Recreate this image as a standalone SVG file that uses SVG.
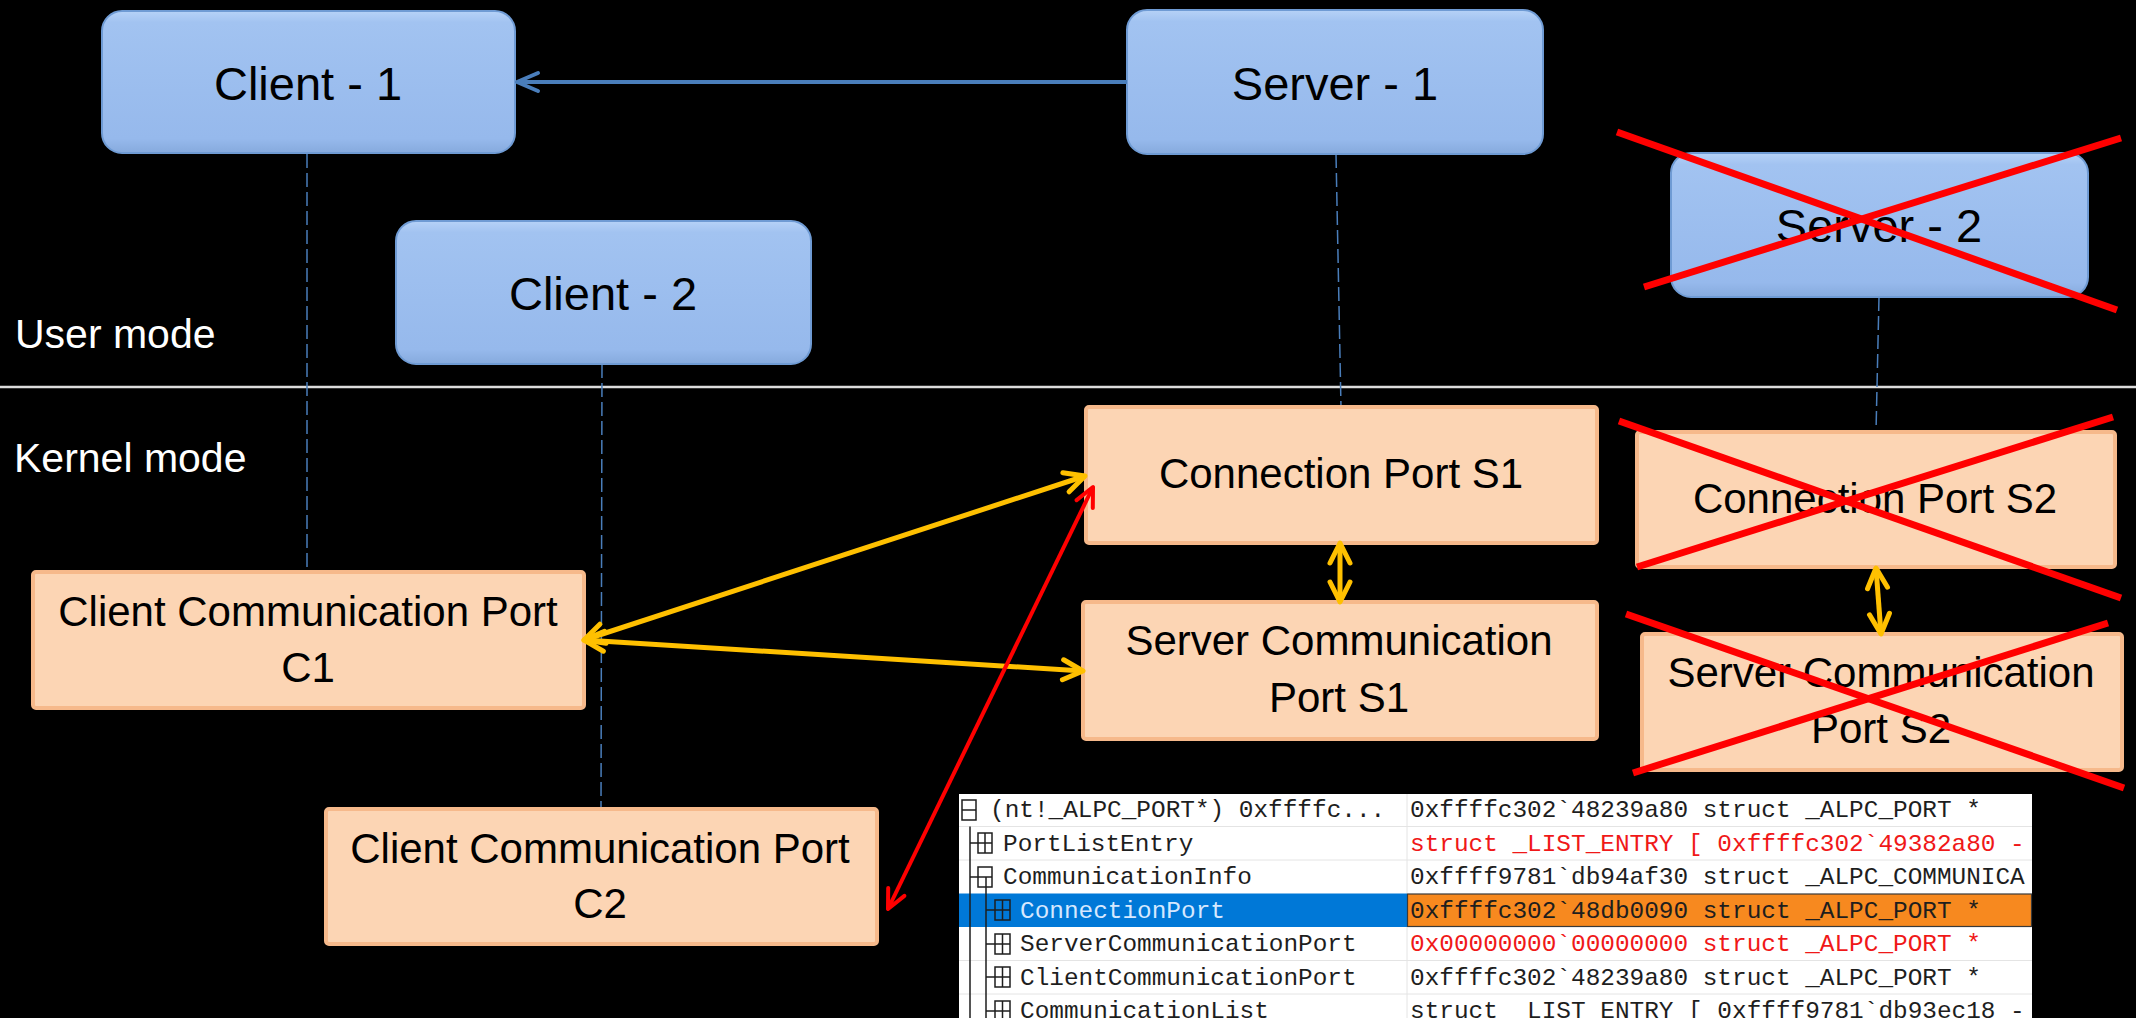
<svg xmlns="http://www.w3.org/2000/svg" width="2136" height="1018" viewBox="0 0 2136 1018">
  <defs>
    <style>
      .bg { fill: #000000; }
      .ubox { fill: url(#blueFill); stroke: #6f9bd4; stroke-width: 2; }
      .kbox { fill: #fcd5b4; stroke: #f6b98b; stroke-width: 4; }
      .lbl { font-family: "Liberation Sans", Arial, sans-serif; fill: #000000; text-anchor: middle; }
      .big { font-size: 47px; }
      .mid { font-size: 42px; }
      .mode { font-family: "Liberation Sans", Arial, sans-serif; font-size: 41px; fill: #ffffff; }
      .life { stroke: #4a7ebb; stroke-width: 1.5; stroke-dasharray: 14 5; fill: none; }
      .cross { stroke: #ff0000; stroke-width: 7; stroke-linecap: butt; }
      .yel { stroke: #ffc000; stroke-width: 5; fill: none; marker-start: url(#headY); marker-end: url(#headY); }
      .red { stroke: #ff0000; stroke-width: 4; fill: none; marker-start: url(#headR); marker-end: url(#headR); }
      .blu { stroke: #4a7ebb; stroke-width: 4; fill: none; marker-end: url(#headB); }
      .mono { font-family: "Liberation Mono", "Courier New", monospace; font-size: 24.4px; }
      .blk { fill: #1e1e1e; }
      .rd { fill: #f01818; }
      .sel { fill: #d6e8ff; }
      .grid { stroke: #e4e4e4; stroke-width: 1; }
      .tree { stroke: #1e1e1e; stroke-width: 1.5; fill: none; }
      .icon { stroke: #1e1e1e; stroke-width: 1.5; fill: none; }
    </style>
    <linearGradient id="blueFill" x1="0" y1="0" x2="0" y2="1">
      <stop offset="0" stop-color="#b6d2f7"/>
      <stop offset="0.08" stop-color="#a2c3f1"/>
      <stop offset="0.9" stop-color="#96b9ec"/>
      <stop offset="1" stop-color="#86aadd"/>
    </linearGradient>
    <marker id="headY" markerUnits="userSpaceOnUse" orient="auto-start-reverse" refX="0" refY="0" markerWidth="30" markerHeight="30" overflow="visible">
      <path d="M -20 -10 L 0 0 L -20 10" fill="none" stroke="#ffc000" stroke-width="5" stroke-linecap="round" stroke-linejoin="round"/>
    </marker>
    <marker id="headR" markerUnits="userSpaceOnUse" orient="auto-start-reverse" refX="0" refY="0" markerWidth="30" markerHeight="30" overflow="visible">
      <path d="M -19 -9 L 0 0 L -19 9" fill="none" stroke="#ff0000" stroke-width="4" stroke-linecap="round" stroke-linejoin="round"/>
    </marker>
    <marker id="headB" markerUnits="userSpaceOnUse" orient="auto" refX="0" refY="0" markerWidth="30" markerHeight="30" overflow="visible">
      <path d="M -21 -9 L 0 0 L -21 9" fill="none" stroke="#4a7ebb" stroke-width="4" stroke-linecap="round" stroke-linejoin="round"/>
    </marker>
    <clipPath id="valClip">
      <rect x="1407" y="790" width="625" height="240"/>
    </clipPath>
    <clipPath id="nameClip">
      <rect x="959" y="790" width="448" height="240"/>
    </clipPath>
  </defs>

  <rect class="bg" x="0" y="0" width="2136" height="1018"/>

  <!-- user / kernel boundary -->
  <line x1="0" y1="387" x2="2136" y2="387" stroke="#dcdcdc" stroke-width="2.5"/>
  <text class="mode" x="15" y="348">User mode</text>
  <text class="mode" x="14" y="472">Kernel mode</text>

  <!-- lifelines from processes to their kernel ports -->
  <g id="lifelines">
    <line class="life" x1="307" y1="154" x2="307" y2="572"/>
    <line class="life" x1="602" y1="364" x2="601" y2="809"/>
    <line class="life" x1="1336" y1="154" x2="1341" y2="407"/>
    <line class="life" x1="1879" y1="297" x2="1876" y2="432"/>
  </g>

  <!-- user-mode processes -->
  <g id="client-1">
    <rect class="ubox" x="102" y="11" width="413" height="142" rx="20"/>
    <text class="lbl big" x="308" y="100">Client - 1</text>
  </g>
  <g id="client-2">
    <rect class="ubox" x="396" y="221" width="415" height="143" rx="20"/>
    <text class="lbl big" x="603" y="310">Client - 2</text>
  </g>
  <g id="server-1">
    <rect class="ubox" x="1127" y="10" width="416" height="144" rx="20"/>
    <text class="lbl big" x="1335" y="100">Server - 1</text>
  </g>
  <g id="server-2">
    <rect class="ubox" x="1671" y="153" width="417" height="144" rx="20"/>
    <text class="lbl big" x="1879" y="242">Server - 2</text>
  </g>

  <!-- kernel-mode ALPC ports -->
  <g id="connection-port-s1">
    <rect class="kbox" x="1086" y="407" width="511" height="136" rx="3"/>
    <text class="lbl mid" x="1341" y="488">Connection Port S1</text>
  </g>
  <g id="server-comm-port-s1">
    <rect class="kbox" x="1083" y="602" width="514" height="137" rx="3"/>
    <text class="lbl mid" x="1339" y="655">Server Communication</text>
    <text class="lbl mid" x="1339" y="712">Port S1</text>
  </g>
  <g id="connection-port-s2">
    <rect class="kbox" x="1637" y="432" width="478" height="135" rx="3"/>
    <text class="lbl mid" x="1875" y="513">Connection Port S2</text>
  </g>
  <g id="server-comm-port-s2">
    <rect class="kbox" x="1642" y="634" width="480" height="136" rx="3"/>
    <text class="lbl mid" x="1881" y="687">Server Communication</text>
    <text class="lbl mid" x="1881" y="743">Port S2</text>
  </g>
  <g id="client-comm-port-c1">
    <rect class="kbox" x="33" y="572" width="551" height="136" rx="3"/>
    <text class="lbl mid" x="308" y="626">Client Communication Port</text>
    <text class="lbl mid" x="308" y="682">C1</text>
  </g>
  <g id="client-comm-port-c2">
    <rect class="kbox" x="326" y="809" width="551" height="135" rx="3"/>
    <text class="lbl mid" x="600" y="863">Client Communication Port</text>
    <text class="lbl mid" x="600" y="918">C2</text>
  </g>

  <!-- connectors -->
  <g id="connectors">
    <line class="blu" x1="1127" y1="82" x2="517" y2="82"/>
    <line class="yel" x1="584" y1="640" x2="1085" y2="476"/>
    <line class="yel" x1="584" y1="640" x2="1083" y2="671"/>
    <line class="yel" x1="1340" y1="543" x2="1340" y2="602"/>
    <line class="yel" x1="1876" y1="568" x2="1881" y2="634"/>
    <line class="red" x1="888" y1="909" x2="1093" y2="487"/>
  </g>

  <!-- removed server: crossed out -->
  <g id="strike-marks">
    <line class="cross" x1="1617" y1="132" x2="2117" y2="310"/>
    <line class="cross" x1="2121" y1="138" x2="1644" y2="287"/>
    <line class="cross" x1="1619" y1="421" x2="2121" y2="598"/>
    <line class="cross" x1="2113" y1="417" x2="1637" y2="567"/>
    <line class="cross" x1="1626" y1="614" x2="2124" y2="788"/>
    <line class="cross" x1="2108" y1="623" x2="1633" y2="773"/>
  </g>

  <!-- debugger watch window: _ALPC_PORT dump -->
  <g id="alpc-port-dump">
    <rect x="959" y="794" width="1073" height="230" fill="#ffffff"/>
    <!-- selected row -->
    <rect x="959" y="893.5" width="448" height="33.5" fill="#0078d7"/>
    <rect x="1407.5" y="894" width="624" height="32.5" fill="#f7891f" stroke="#3a3a3a" stroke-width="1.2"/>
    <!-- grid -->
    <line class="grid" x1="1407" y1="794" x2="1407" y2="893"/>
    <line class="grid" x1="1407" y1="927" x2="1407" y2="1018"/>
    <line class="grid" x1="959" y1="826.5" x2="2032" y2="826.5"/>
    <line class="grid" x1="959" y1="860" x2="2032" y2="860"/>
    <line class="grid" x1="959" y1="960.5" x2="2032" y2="960.5"/>
    <line class="grid" x1="959" y1="994" x2="2032" y2="994"/>

    <!-- tree connectors -->
    <path class="tree" d="M970 826.5 V 1018 M970 843 H 978 M970 877 H 978"/>
    <path class="tree" d="M986 877 V 1018 M986 910 H 995 M986 944 H 995 M986 977 H 995 M986 1011 H 995"/>

    <!-- expand / collapse boxes -->
    <g class="icon">
      <rect x="962" y="800" width="14" height="20"/><path d="M962 810 H 976"/>
      <rect x="978" y="833" width="14" height="20"/><path d="M978 843 H 992 M985 833 V 853"/>
      <rect x="978" y="867" width="14" height="20"/><path d="M978 877 H 992"/>
      <rect x="995" y="900" width="15" height="20"/><path d="M995 910 H 1010 M1002.5 900 V 920"/>
      <rect x="995" y="934" width="15" height="20"/><path d="M995 944 H 1010 M1002.5 934 V 954"/>
      <rect x="995" y="967" width="15" height="20"/><path d="M995 977 H 1010 M1002.5 967 V 987"/>
      <rect x="995" y="1001" width="15" height="20"/><path d="M995 1011 H 1010 M1002.5 1001 V 1021"/>
    </g>

    <g class="mono" clip-path="url(#nameClip)">
      <text class="blk" x="990" y="817">(nt!_ALPC_PORT*) 0xffffc...</text>
      <text class="blk" x="1003" y="850.5">PortListEntry</text>
      <text class="blk" x="1003" y="884">CommunicationInfo</text>
      <text class="sel" x="1020" y="917.5">ConnectionPort</text>
      <text class="blk" x="1020" y="951">ServerCommunicationPort</text>
      <text class="blk" x="1020" y="984.5">ClientCommunicationPort</text>
      <text class="blk" x="1020" y="1018">CommunicationList</text>
    </g>
    <g class="mono" clip-path="url(#valClip)">
      <text class="blk" x="1410" y="817">0xffffc302`48239a80 struct _ALPC_PORT *</text>
      <text class="rd" x="1410" y="850.5">struct _LIST_ENTRY [ 0xffffc302`49382a80 -</text>
      <text class="blk" x="1410" y="884">0xffff9781`db94af30 struct _ALPC_COMMUNICA</text>
      <text class="blk" x="1410" y="917.5">0xffffc302`48db0090 struct _ALPC_PORT *</text>
      <text class="rd" x="1410" y="951">0x00000000`00000000 struct _ALPC_PORT *</text>
      <text class="blk" x="1410" y="984.5">0xffffc302`48239a80 struct _ALPC_PORT *</text>
      <text class="blk" x="1410" y="1018">struct _LIST_ENTRY [ 0xffff9781`db93ec18 -</text>
    </g>
  </g>
</svg>
